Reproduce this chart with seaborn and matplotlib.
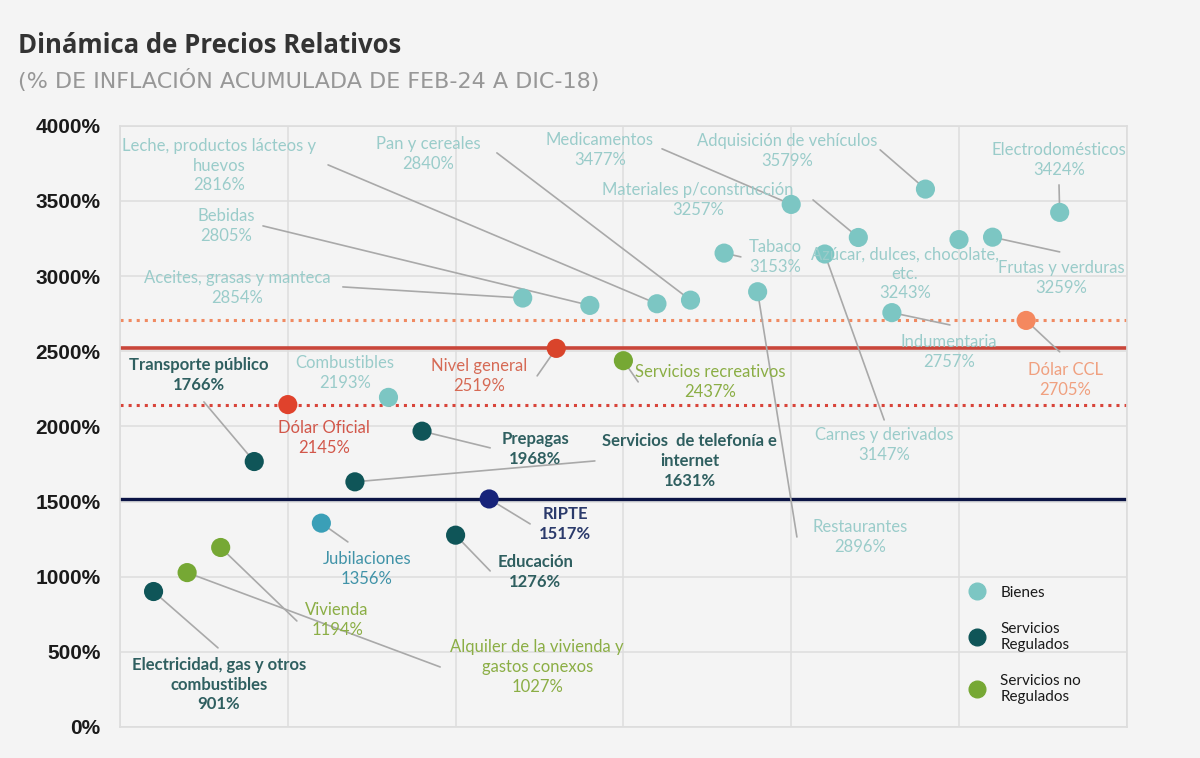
import numpy as np
import matplotlib.pyplot as plt
import seaborn as sns
import pandas as pd
from matplotlib.lines import Line2D
from matplotlib.ticker import FuncFormatter

# datos (inflacion acumulada, %)
categorias = ['Electricidad, gas y otros combustibles', 'Alquiler de la vivienda y gastos conexos',
              'Vivienda', 'Transporte público', 'Dólar Oficial', 'Jubilaciones',
              'Servicios  de telefonía e internet', 'Combustibles', 'Prepagas', 'Educación',
              'RIPTE', 'Aceites, grasas y manteca', 'Nivel general', 'Bebidas',
              'Servicios recreativos', 'Leche, productos lácteos y huevos', 'Pan y cereales',
              'Tabaco', 'Restaurantes', 'Medicamentos', 'Carnes y derivados',
              'Materiales p/construcción', 'Indumentaria', 'Adquisición de vehículos',
              'Azúcar, dulces, chocolate, etc.', 'Frutas y verduras', 'Dólar CCL',
              'Electrodomésticos']
valores = [901, 1027, 1194, 1766, 2145, 1356, 1631, 2193, 1968, 1276, 1517, 2854, 2519, 2805,
           2437, 2816, 2840, 3153, 2896, 3477, 3147, 3257, 2757, 3579, 3243, 3259, 2705, 3424]
grupos = ['Servicios Regulados', 'Servicios no Regulados', 'Servicios no Regulados',
          'Servicios Regulados', 'Dólar Oficial', 'Jubilaciones', 'Servicios Regulados',
          'Bienes', 'Servicios Regulados', 'Servicios Regulados', 'RIPTE', 'Bienes',
          'Nivel general', 'Bienes', 'Servicios no Regulados', 'Bienes', 'Bienes', 'Bienes',
          'Bienes', 'Bienes', 'Bienes', 'Bienes', 'Bienes', 'Bienes', 'Bienes', 'Bienes',
          'Dólar CCL', 'Bienes']
yticks = [0, 500, 1000, 1500, 2000, 2500, 3000, 3500, 4000]

df = pd.DataFrame({'categoria': categorias, 'valor': valores, 'grupo': grupos})
df['pos'] = np.arange(1, len(df) + 1)

punto = {'Bienes': '#7cc6c3', 'Servicios Regulados': '#0f5558', 'Servicios no Regulados': '#76a834',
         'Nivel general': '#d9442b', 'Dólar Oficial': '#e0422c', 'Dólar CCL': '#f4885f',
         'RIPTE': '#17237a', 'Jubilaciones': '#3a9fb7'}
texto = {'Bienes': '#9accca', 'Servicios Regulados': '#2f5f60', 'Servicios no Regulados': '#8bae45',
         'Nivel general': '#d66a55', 'Dólar Oficial': '#d2574a', 'Dólar CCL': '#f0a07f',
         'RIPTE': '#2b3a6b', 'Jubilaciones': '#4093a8'}

# texto partido como en el original
partido = {'Leche, productos lácteos y huevos': 'Leche, productos lácteos y\nhuevos',
           'Servicios  de telefonía e internet': 'Servicios  de telefonía e\ninternet',
           'Azúcar, dulces, chocolate, etc.': 'Azúcar, dulces, chocolate,\netc.',
           'Alquiler de la vivienda y gastos conexos': 'Alquiler de la vivienda y\ngastos conexos',
           'Electricidad, gas y otros combustibles': 'Electricidad, gas y otros\ncombustibles'}

# posicion de etiqueta (x, y) e inicio de linea guia (x, y) o None
etiquetas = {
    'Leche, productos lácteos y huevos': (2.95, 3734, 6.2, 3740),
    'Pan y cereales': (9.18, 3814, 11.23, 3820),
    'Medicamentos': (14.3, 3840, 16.15, 3847),
    'Adquisición de vehículos': (19.87, 3833, 22.65, 3840),
    'Electrodomésticos': (27.98, 3774, 27.98, 3607),
    'Materiales p/construcción': (17.22, 3507, 20.65, 3507),
    'Bebidas': (3.16, 3334, 4.26, 3334),
    'Aceites, grasas y manteca': (3.49, 2922, 6.64, 2928),
    'Tabaco': (19.52, 3128, 18.5, 3128),
    'Azúcar, dulces, chocolate, etc.': (23.39, 3015, None, None),
    'Frutas y verduras': (28.04, 2988, 28.0, 3161),
    'Indumentaria': (24.7, 2496, 24.73, 2675),
    'Dólar CCL': (28.16, 2309, 28.0, 2496),
    'Carnes y derivados': (22.77, 1877, 22.77, 2043),
    'Restaurantes': (22.05, 1264, 20.17, 1264),
    'Transporte público': (2.35, 2343, 2.5, 2163),
    'Combustibles': (6.7, 2356, None, None),
    'Dólar Oficial': (6.08, 1923, None, None),
    'Nivel general': (10.7, 2336, 12.43, 2336),
    'Servicios recreativos': (17.58, 2296, 15.44, 2296),
    'Prepagas': (12.37, 1850, 11.03, 1857),
    'Servicios  de telefonía e internet': (16.98, 1770, 14.15, 1770),
    'RIPTE': (13.26, 1351, 12.22, 1351),
    'Jubilaciones': (7.36, 1052, 6.79, 1231),
    'Educación': (12.37, 1032, 11.03, 1038),
    'Vivienda': (6.47, 712, 5.27, 705),
    'Alquiler de la vivienda y gastos conexos': (12.43, 399, 9.54, 399),
    'Electricidad, gas y otros combustibles': (2.95, 280, 2.92, 526),
}

fondo = '#f4f4f4'
sns.set_theme(style='whitegrid')
plt.rcParams['font.family'] = ['Lato', 'DejaVu Sans']

fig = plt.figure(figsize=(12, 7.58), dpi=100, facecolor=fondo)
ax = fig.add_axes([0.1, 0.041, 0.839, 0.793], facecolor=fondo)

# lineas de referencia
lineas = {'Dólar CCL': ('#f08a62', ':', 2.2), 'Nivel general': ('#c9463a', '-', 2.6),
          'Dólar Oficial': ('#d8443a', ':', 2.2), 'RIPTE': ('#0b1445', '-', 2.4)}
for nombre, (c, ls, lw) in lineas.items():
    v = df.loc[df['categoria'] == nombre, 'valor'].iloc[0]
    ax.axhline(v, color=c, ls=ls, lw=lw, zorder=2)

# lineas guia
for _, r in df.iterrows():
    tx, ty, lx, ly = etiquetas[r['categoria']]
    if lx is not None:
        ax.plot([lx, r['pos']], [ly, r['valor']], color='#a9a9a9', lw=1.2, zorder=2.5)

sns.scatterplot(data=df, x='pos', y='valor', hue='grupo', palette=punto, s=190,
                edgecolor='none', legend=False, ax=ax, zorder=4)

for _, r in df.iterrows():
    tx, ty, lx, ly = etiquetas[r['categoria']]
    nombre = partido.get(r['categoria'], r['categoria'])
    bold = r['grupo'] in ('Servicios Regulados', 'RIPTE')
    ax.text(tx, ty, f"{nombre}\n{r['valor']}%", ha='center', va='center', fontsize=12,
            color=texto[r['grupo']], linespacing=1.28, zorder=5,
            fontweight='bold' if bold else 'normal')

ax.set_xlim(0, 30)
ax.set_ylim(0, 4000)
ax.set_xticks([0, 5, 10, 15, 20, 25, 30])
ax.set_xticklabels([])
ax.set_yticks(yticks)
ax.yaxis.set_major_formatter(FuncFormatter(lambda v, p: f'{int(v)}%'))
ax.tick_params(axis='y', length=0, pad=14, labelsize=15, labelcolor='#1a1a1a')
ax.tick_params(axis='x', length=0)
for t in ax.get_yticklabels():
    t.set_fontfamily(['Liberation Sans', 'DejaVu Sans'])
    t.set_fontweight('bold')
ax.grid(True, color='#dddddd', lw=1.1)
for s in ax.spines.values():
    s.set_color('#dddddd')
ax.set_xlabel('')
ax.set_ylabel('')

# leyenda
grupos_ley = ['Bienes', 'Servicios Regulados', 'Servicios no Regulados']
nombres_ley = ['Bienes', 'Servicios\nRegulados', 'Servicios no\nRegulados']
handles = [Line2D([], [], marker='o', ls='', markersize=12, color=punto[g]) for g in grupos_ley]
ax.legend(handles, nombres_ley, loc='upper left', bbox_to_anchor=(0.822, 0.258), frameon=False,
          fontsize=11, labelspacing=1.45, handletextpad=0.55, labelcolor='#1a1a1a')

fig.text(0.015, 0.94, 'Dinámica de Precios Relativos', fontsize=18.5, fontweight='bold',
         color='#333333', va='center', family=['Open Sans', 'DejaVu Sans'])
fig.text(0.015, 0.894, '(% DE INFLACIÓN ACUMULADA DE FEB-24 A DIC-18)', fontsize=16,
         color='#979797', va='center', family=['DejaVu Sans'])

fig.savefig('out.png', dpi=100, facecolor=fondo)
